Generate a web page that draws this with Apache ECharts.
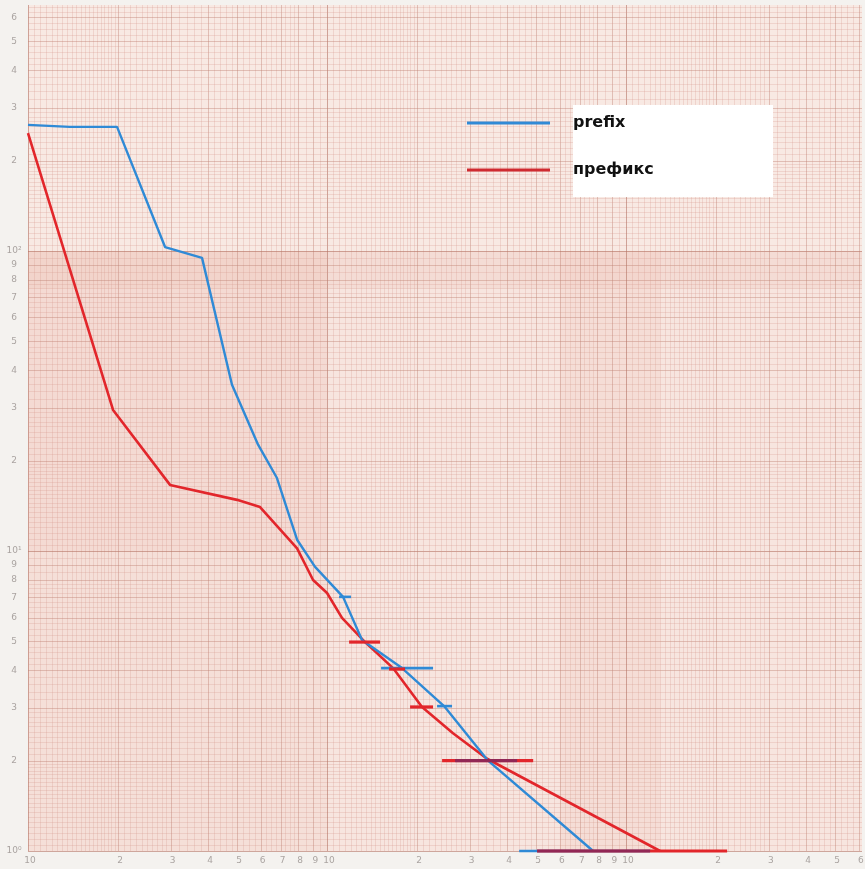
<!DOCTYPE html>
<html><head><meta charset="utf-8">
<script src="https://cdn.jsdelivr.net/npm/echarts@6/dist/echarts.min.js"></script>
<style>html,body{margin:0;padding:0;background:#f4f2ef;} #c{width:865px;height:869px;}</style>
</head><body><div id="c"></div>
<script>
const seriesNames = ['prefix', 'префикс'];
const prefixX = [1, 1.38, 1.985, 2.873, 3.819, 4.81, 5.88, 6.80, 7.94, 9.12, 11.31, 13.09, 17.81, 24.62, 34.55, 77.56];
const prefixY = [263, 259, 259, 103, 94.8, 35.8, 22.6, 17.5, 10.9, 8.85, 7.03, 5.05, 4.07, 3.04, 2.0, 1];
const prefiksX = [1, 1.925, 2.985, 5.0, 5.97, 7.94, 8.98, 10, 11.22, 13.4, 16.62, 20.78, 26.38, 34.28, 129.9];
const prefiksY = [247, 29.5, 16.6, 14.8, 14.0, 10.2, 8.0, 7.24, 5.98, 4.97, 4.07, 3.02, 2.47, 2.03, 1];
const prefixErrY = [7.03, 4.07, 3.04, 2.0, 1];
const prefixErrLow = [10.97, 15.16, 23.33, 26.8, 43.9];
const prefixErrHigh = [12.03, 22.62, 26.18, 43.2, 120.3];
const prefiksErrY = [4.97, 4.04, 3.02, 2.0, 1];
const prefiksErrLow = [11.85, 16.12, 18.95, 24.25, 50.4];
const prefiksErrHigh = [15.04, 18.23, 22.62, 48.9, 217.7];
const xTickValues = [1,2,3,4,5,6,7,8,9,10,20,30,40,50,60,70,80,90,100,200,300,400,500,600];
const xTickLabels = ['10','2','3','4','5','6','7','8','9','10','2','3','4','5','6','7','8','9','10','2','3','4','5','6'];
const yTickValues = [1,2,3,4,5,6,7,8,9,10,20,30,40,50,60,70,80,90,100,200,300,400,500,600];
const yTickLabels = ['10⁰','2','3','4','5','6','7','8','9','10¹','2','3','4','5','6','7','8','9','10²','2','3','4','5','6'];

const X_MIN = 1, X_MAX = 615, Y_MIN = 1, Y_MAX = 660;

const chart = echarts.init(document.getElementById('c'), null, {renderer: 'canvas'});

function zip(a, b) { return a.map((v, i) => [v, b[i]]); }
function errData(y, lo, hi) { return y.map((v, i) => [lo[i], hi[i], v]); }

function paperRender(params, api) {
  const children = [];
  const decades = [1, 10, 100];
  const minorC = 'rgba(212,150,138,0.26)', majorC = 'rgba(190,128,115,0.42)', decC = 'rgba(180,115,100,0.6)';
  const shades = [
    [1, 10, 10, 100, 'rgba(236,190,178,0.28)'],
    [1, 10, 1, 10, 'rgba(236,190,178,0.15)'],
    [1, 615, 75, 100, 'rgba(236,190,178,0.22)'],
    [60, 130, 1, 100, 'rgba(236,190,178,0.18)'],
    [1, 615, 100, 660, 'rgba(255,255,255,0.15)']
  ];
  shades.forEach(s => {
    const a = api.coord([s[0], s[3]]), b = api.coord([s[1], s[2]]);
    children.push({type: 'rect', shape: {x: a[0], y: a[1], width: b[0]-a[0], height: b[1]-a[1]}, style: {fill: s[4]}, silent: true});
  });
  function vline(x, c, w) {
    if (x < X_MIN || x > X_MAX) return;
    const p1 = api.coord([x, Y_MIN]), p2 = api.coord([x, Y_MAX]);
    children.push({type: 'line', shape: {x1: Math.round(p1[0])+0.5, y1: p1[1], x2: Math.round(p2[0])+0.5, y2: p2[1]}, style: {stroke: c, lineWidth: w}, silent: true});
  }
  function hline(y, c, w) {
    if (y < Y_MIN || y > Y_MAX) return;
    const p1 = api.coord([X_MIN, y]), p2 = api.coord([X_MAX, y]);
    children.push({type: 'line', shape: {x1: p1[0], y1: Math.round(p1[1])+0.5, x2: p2[0], y2: Math.round(p2[1])+0.5}, style: {stroke: c, lineWidth: w}, silent: true});
  }
  decades.forEach(d => {
    for (let k = 1; k <= 9; k++) {
      const a = k * d, b = (k + 1) * d;
      const wx = api.coord([b, 1])[0] - api.coord([a, 1])[0];
      const wy = api.coord([1, a])[1] - api.coord([1, b])[1];
      const pick = w => { const o = [1,2,4,5,10,20]; let best = 1; o.forEach(n => { if (Math.abs(w/n - 6.2) < Math.abs(w/best - 6.2)) best = n; }); return best; };
      const nx = pick(wx), ny = pick(wy);
      for (let j = 1; j < nx; j++) vline(a + j * d / nx, minorC, 1);
      for (let j = 1; j < ny; j++) hline(a + j * d / ny, minorC, 1);
      vline(a, k === 1 ? decC : majorC, 1);
      hline(a, k === 1 ? decC : majorC, 1);
    }
  });
  xTickValues.forEach((v, i) => {
    const p = api.coord([v, Y_MIN]);
    children.push({type: 'text', style: {text: xTickLabels[i], x: p[0] + 2, y: p[1] + 5, fill: '#aaa4a1', font: '9px "DejaVu Sans"', align: 'center', verticalAlign: 'top'}, silent: true});
  });
  yTickValues.forEach((v, i) => {
    const p = api.coord([X_MIN, v]);
    children.push({type: 'text', style: {text: yTickLabels[i], x: 14, y: p[1], fill: '#aaa4a1', font: '9px "DejaVu Sans"', align: 'center', verticalAlign: 'middle'}, silent: true});
  });
  return {type: 'group', children: children};
}

function errRender(color, width) {
  return function (params, api) {
    const p1 = api.coord([api.value(0), api.value(2)]);
    const p2 = api.coord([api.value(1), api.value(2)]);
    return {type: 'line', shape: {x1: p1[0], y1: p1[1], x2: p2[0], y2: p2[1]}, style: {stroke: color, lineWidth: width, lineCap: 'butt'}};
  };
}

const overlap = [];
prefixErrY.forEach((y, i) => {
  const j = prefiksErrY.indexOf(y);
  if (j >= 0) {
    const lo = Math.max(prefixErrLow[i], prefiksErrLow[j]), hi = Math.min(prefixErrHigh[i], prefiksErrHigh[j]);
    if (hi > lo) overlap.push([lo, hi, y]);
  }
});

chart.setOption({
  animation: false,
  backgroundColor: '#f4f2ef',
  grid: {left: 28, top: 5, width: 834, height: 846, show: true, backgroundColor: '#f7e5df', borderWidth: 0},
  xAxis: {type: 'log', logBase: 10, min: X_MIN, max: X_MAX, axisLine: {show: false}, axisTick: {show: false}, axisLabel: {show: false}, splitLine: {show: false}},
  yAxis: {type: 'log', logBase: 10, min: Y_MIN, max: Y_MAX, axisLine: {show: false}, axisTick: {show: false}, axisLabel: {show: false}, splitLine: {show: false}},
  legend: {
    data: [seriesNames[0], seriesNames[1]], orient: 'vertical', left: 462, top: 109, z: 10,
    itemWidth: 83, itemHeight: 3, itemGap: 29, icon: 'rect',
    textStyle: {fontFamily: 'DejaVu Sans', fontWeight: 'bold', fontSize: 16, lineHeight: 18, color: '#111', padding: [0, 0, 0, 18]}
  },
  graphic: [{type: 'rect', left: 573, top: 105, shape: {width: 200, height: 92}, style: {fill: '#ffffff'}, z: 5}],
  series: [
    {type: 'custom', name: 'paper', renderItem: paperRender, data: [[1, 1]], z: 1, silent: true, clip: false},
    {type: 'line', name: seriesNames[1], data: zip(prefiksX, prefiksY), symbol: 'none', z: 3, lineStyle: {color: '#e2262b', width: 2.6}, itemStyle: {color: '#cf2a30'}},
    {type: 'line', name: seriesNames[0], data: zip(prefixX, prefixY), symbol: 'none', z: 4, lineStyle: {color: '#2f8ad6', width: 2.4}, itemStyle: {color: '#2f8ad6'}},
    {type: 'custom', name: 'prefixErr', renderItem: errRender('#2f8ad6', 2.6), data: errData(prefixErrY, prefixErrLow, prefixErrHigh), z: 5, clip: false},
    {type: 'custom', name: 'prefiksErr', renderItem: errRender('#e2262b', 3.2), data: errData(prefiksErrY, prefiksErrLow, prefiksErrHigh), z: 6, clip: false},
    {type: 'custom', name: 'overlap', renderItem: errRender('rgba(80,40,120,0.55)', 3.2), data: overlap, z: 7, clip: false}
  ]
});
</script></body></html>
